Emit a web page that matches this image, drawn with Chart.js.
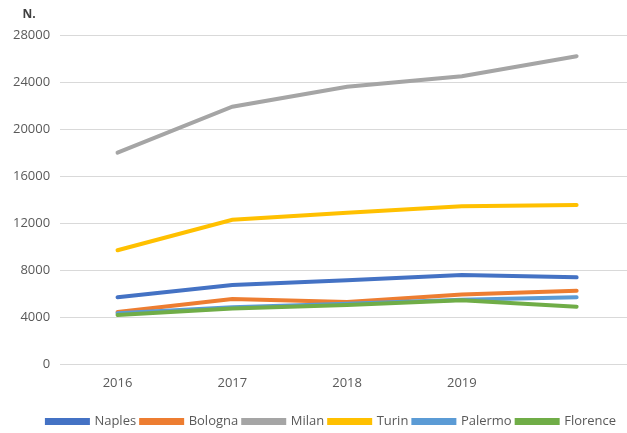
<!DOCTYPE html>
<html>
<head>
<meta charset="utf-8">
<script src="https://cdn.jsdelivr.net/npm/chart.js@4/dist/chart.umd.min.js"></script>
<style>
  html, body { margin: 0; padding: 0; background: #fff; overflow: hidden; }
  #wrap { width: 634px; height: 433px; position: relative; }
</style>
</head>
<body>
<div id="wrap"><canvas id="chart"></canvas></div>
<script>
const years = ['2016', '2017', '2018', '2019', ''];
const naples = [5700, 6750, 7150, 7600, 7400];
const bologna = [4450, 5550, 5300, 5950, 6250];
const milan = [18000, 21900, 23600, 24500, 26200];
const turin = [9700, 12300, 12900, 13450, 13550];
const palermo = [4350, 4850, 5150, 5500, 5700];
const florence = [4200, 4750, 5050, 5450, 4900];

const cities = [
  { name: 'Naples', data: naples, color: '#4472c4' },
  { name: 'Bologna', data: bologna, color: '#ed7d31' },
  { name: 'Milan', data: milan, color: '#a5a5a5' },
  { name: 'Turin', data: turin, color: '#ffc000' },
  { name: 'Palermo', data: palermo, color: '#5b9bd5' },
  { name: 'Florence', data: florence, color: '#70ad47' }
];

const fontFamily = "'Open Sans', 'Liberation Sans', sans-serif";

// "N." label above the value axis, legend nudged right like the original
const extras = {
  id: 'extras',
  afterLayout(chart) {
    chart.legend.left += 26;
  },
  afterDraw(chart) {
    const ctx = chart.ctx;
    ctx.save();
    ctx.font = 'bold 12px ' + fontFamily;
    ctx.fillStyle = '#404040';
    ctx.textAlign = 'center';
    ctx.textBaseline = 'middle';
    ctx.fillText('N.', 29, 15);
    ctx.restore();
  }
};

new Chart(document.getElementById('chart'), {
  type: 'line',
  data: {
    labels: years,
    datasets: cities.map((c, i) => ({
      label: c.name,
      data: c.data,
      borderColor: c.color,
      backgroundColor: c.color,
      borderWidth: 4,
      pointRadius: 0,
      tension: 0,
      borderCapStyle: 'round',
      order: cities.length - i
    }))
  },
  options: {
    responsive: true,
    maintainAspectRatio: false,
    animation: false,
    layout: { padding: { top: 35, left: 3, right: 0, bottom: -5 } },
    plugins: {
      tooltip: { enabled: false },
      legend: {
        position: 'bottom',
        labels: {
          color: '#595959',
          font: { size: 13, family: fontFamily },
          boxWidth: 41,
          boxHeight: 3,
          padding: 5,
          sort: (a, b) => a.datasetIndex - b.datasetIndex
        }
      }
    },
    scales: {
      x: {
        offset: true,
        grid: { display: false, drawTicks: false },
        border: { display: false },
        ticks: { color: '#595959', font: { size: 13, family: fontFamily }, padding: 11 },
        afterFit(scale) { scale.height += 8; }
      },
      y: {
        min: 0,
        max: 28000,
        ticks: {
          stepSize: 4000,
          color: '#595959',
          font: { size: 13, family: fontFamily },
          padding: 10,
          callback: v => String(v)
        },
        grid: { color: '#d9d9d9', drawTicks: false },
        border: { display: false }
      }
    }
  },
  plugins: [extras]
});
</script>
</body>
</html>
